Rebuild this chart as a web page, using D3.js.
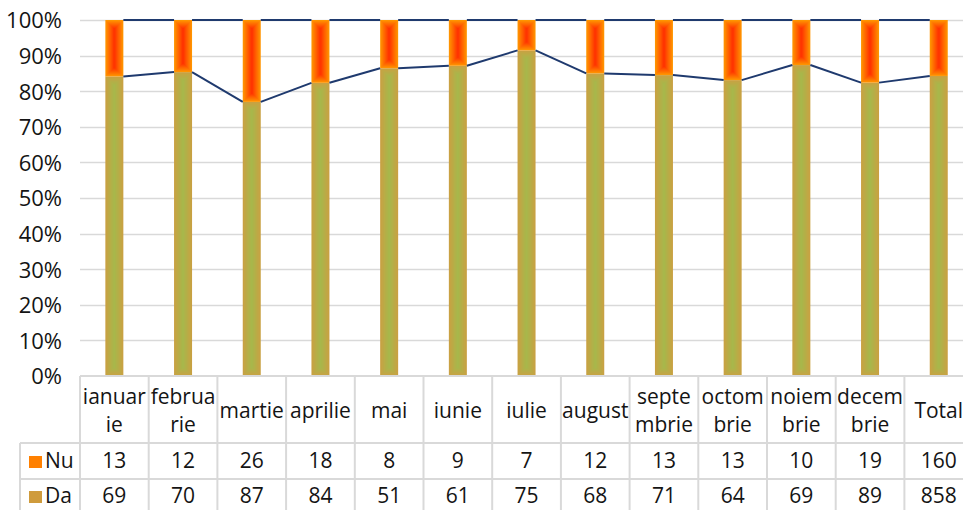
<!DOCTYPE html>
<html>
<head>
<meta charset="utf-8">
<script src="https://cdn.jsdelivr.net/npm/d3@7"></script>
<style>
  body { margin: 0; background: #fff; overflow: hidden; }
  text { font-family: "Open Sans", Lato, sans-serif; fill: #141414; }
</style>
</head>
<body>
<div id="chart"></div>
<script>
// data
var categories = ["ianuarie", "februarie", "martie", "aprilie", "mai", "iunie", "iulie",
  "august", "septembrie", "octombrie", "noiembrie", "decembrie", "Total"];
// how the table wraps the names
var labelLines = [["ianuar", "ie"], ["februa", "rie"], ["martie"], ["aprilie"], ["mai"], ["iunie"],
  ["iulie"], ["august"], ["septe", "mbrie"], ["octom", "brie"], ["noiem", "brie"], ["decem", "brie"], ["Total"]];
var nuValues = [13, 12, 26, 18, 8, 9, 7, 12, 13, 13, 10, 19, 160];
var daValues = [69, 70, 87, 84, 51, 61, 75, 68, 71, 64, 69, 89, 858];
var yTicks = [0, 0.1, 0.2, 0.3, 0.4, 0.5, 0.6, 0.7, 0.8, 0.9, 1];

var svgWidth = 963;
var svgHeight = 510;

var plotLeft = 80;
var colWidth = 68.7;
var plotTop = 20;
var plotBottom = 376;
var row1 = 443;   // bottom of the names row
var row2 = 479;   // bottom of the Nu row
var row3 = 515;   // bottom of the Da row (cut off)
var legendLeft = 20;
var fontSize = "21px";

var svg = d3.select("#chart")
  .append("svg")
  .attr("width", svgWidth)
  .attr("height", svgHeight);

var xScale = d3.scaleBand()
  .domain(categories)
  .range([plotLeft, plotLeft + colWidth * categories.length])
  .padding(0);

var yScale = d3.scaleLinear()
  .domain([0, 1])
  .range([plotBottom, plotTop]);

var barWidth = 18;
var tableRight = plotLeft + colWidth * categories.length;

// gridlines
svg.append("g")
  .selectAll("line")
  .data(yTicks.filter(d => d > 0))
  .enter()
  .append("line")
  .attr("x1", plotLeft)
  .attr("x2", tableRight)
  .attr("y1", d => Math.round(yScale(d)) + 0.5)
  .attr("y2", d => Math.round(yScale(d)) + 0.5)
  .attr("stroke", "#d9d9d9")
  .attr("stroke-width", 1.5);

// y tick labels
var leftAxis = d3.axisLeft(yScale)
  .tickValues(yTicks)
  .tickFormat(d3.format(".0%"))
  .tickSize(0)
  .tickPadding(0);

var yAxis = svg.append("g")
  .attr("transform", `translate(62, 0)`)
  .call(leftAxis);
yAxis.select(".domain").remove();
yAxis.selectAll("text")
  .attr("font-size", "22px")
  .attr("font-family", "\"Open Sans\", Lato, sans-serif")
  .attr("fill", "#141414")
  .attr("dy", "0.36em");

// shares for the 100% stack
var stackData = categories.map(function(c, i) {
  var total = nuValues[i] + daValues[i];
  return { cat: c, da: daValues[i] / total, nu: nuValues[i] / total };
});

// emulate the rectangular "path" gradient with nested rects
function gradientRect(g, x, y, w, h, edge, center) {
  var steps = Math.floor(w / 2);
  var interp = d3.interpolateRgb(edge, center);
  for (var k = 0; k <= steps; k++) {
    if (w - 2 * k <= 0 || h - 2 * k <= 0) break;
    g.append("rect")
      .attr("x", x + k)
      .attr("y", y + k)
      .attr("width", w - 2 * k)
      .attr("height", h - 2 * k)
      .attr("fill", interp(Math.min(1, k / (steps - 1))));
  }
}

var barsGroup = svg.append("g");
stackData.forEach(function(d) {
  var x = xScale(d.cat) + xScale.bandwidth() / 2 - barWidth / 2;
  var yDa = yScale(d.da);
  gradientRect(barsGroup, x, yDa, barWidth, plotBottom - yDa, "#c9a143", "#a8b74b");
  gradientRect(barsGroup, x, yScale(1), barWidth, yDa - yScale(1), "#ff9400", "#ff3500");
});

// series lines between the bars
var linesGroup = svg.append("g");
for (var i = 0; i < stackData.length - 1; i++) {
  var x1 = xScale(stackData[i].cat) + xScale.bandwidth() / 2 + barWidth / 2;
  var x2 = xScale(stackData[i + 1].cat) + xScale.bandwidth() / 2 - barWidth / 2;
  linesGroup.append("line")
    .attr("x1", x1).attr("x2", x2)
    .attr("y1", yScale(stackData[i].da))
    .attr("y2", yScale(stackData[i + 1].da))
    .attr("stroke", "#1f3a6e")
    .attr("stroke-width", 2);
  linesGroup.append("line")
    .attr("x1", x1).attr("x2", x2)
    .attr("y1", yScale(1))
    .attr("y2", yScale(1))
    .attr("stroke", "#1f3a6e")
    .attr("stroke-width", 2);
}

// data table
var tableGroup = svg.append("g");
var gridColor = "#d9d9d9";

tableGroup.append("line")
  .attr("x1", plotLeft).attr("x2", tableRight)
  .attr("y1", plotBottom).attr("y2", plotBottom)
  .attr("stroke", gridColor).attr("stroke-width", 2);

[row1, row2].forEach(function(yy) {
  tableGroup.append("line")
    .attr("x1", legendLeft).attr("x2", tableRight)
    .attr("y1", yy).attr("y2", yy)
    .attr("stroke", gridColor).attr("stroke-width", 2);
});

tableGroup.append("line")
  .attr("x1", legendLeft).attr("x2", legendLeft)
  .attr("y1", row1).attr("y2", row3)
  .attr("stroke", gridColor).attr("stroke-width", 2);

tableGroup.selectAll(".vline")
  .data(categories.concat(["end"]))
  .enter()
  .append("line")
  .attr("class", "vline")
  .attr("x1", (d, i) => plotLeft + i * colWidth)
  .attr("x2", (d, i) => plotLeft + i * colWidth)
  .attr("y1", plotBottom)
  .attr("y2", row3)
  .attr("stroke", gridColor)
  .attr("stroke-width", 2);

// category names
var nameMid = 418;
categories.forEach(function(c, i) {
  var cx = xScale(c) + xScale.bandwidth() / 2;
  var lines = labelLines[i];
  lines.forEach(function(t, j) {
    tableGroup.append("text")
      .attr("x", cx)
      .attr("y", nameMid + (j - (lines.length - 1) / 2) * 28)
      .attr("text-anchor", "middle")
      .attr("font-size", fontSize)
      .text(t);
  });
});

// value rows
var rows = [
  { name: "Nu", values: nuValues, color: "#ff8000", base: 468 },
  { name: "Da", values: daValues, color: "#cf9b3c", base: 503 }
];

rows.forEach(function(r) {
  tableGroup.append("rect")
    .attr("x", 29)
    .attr("y", r.base - 12)
    .attr("width", 13)
    .attr("height", 12)
    .attr("fill", r.color);
  tableGroup.append("text")
    .attr("x", 45)
    .attr("y", r.base)
    .attr("font-size", fontSize)
    .text(r.name);
  tableGroup.selectAll(".v" + r.name)
    .data(r.values)
    .enter()
    .append("text")
    .attr("x", (d, i) => xScale(categories[i]) + xScale.bandwidth() / 2)
    .attr("y", r.base)
    .attr("text-anchor", "middle")
    .attr("font-size", fontSize)
    .text(d => d);
});
</script>
</body>
</html>
